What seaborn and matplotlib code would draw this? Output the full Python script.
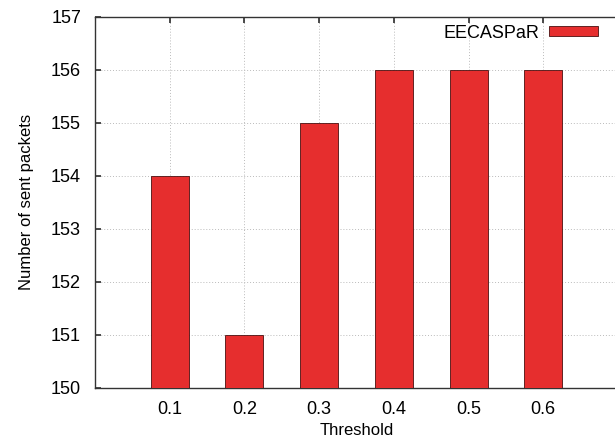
import matplotlib
matplotlib.use("Agg")
import matplotlib.pyplot as plt
import seaborn as sns
import pandas as pd

thresholds = ["0.1", "0.2", "0.3", "0.4", "0.5", "0.6"]
sent_packets = [154, 151, 155, 156, 156, 156]
series_name = "EECASPaR"
y_ticks = [150, 151, 152, 153, 154, 155, 156, 157]

sns.set_theme(style="white")
plt.rcParams['font.family'] = ['Liberation Sans', 'DejaVu Sans']
plt.rcParams['text.color'] = 'black'
plt.rcParams['axes.labelcolor'] = 'black'
plt.rcParams['xtick.color'] = 'black'
plt.rcParams['ytick.color'] = 'black'

df = pd.DataFrame({"Threshold": thresholds, "Packets": sent_packets, "Series": series_name})

fig = plt.figure(figsize=(6.15, 4.42), dpi=100)
ax = fig.add_axes([95/615, 54/442, (618-95)/615, (388-16.5)/442])

sns.barplot(data=df, x="Threshold", y="Packets", hue="Series", palette=["#E62E2E"],
            saturation=1, width=0.51, edgecolor="#4a1010", linewidth=0.6, ax=ax, zorder=3)

ax.set_ylim(150, 157)
ax.set_xlim(-1, 6)
ax.set_yticks(y_ticks)
ax.set_yticklabels([str(v) for v in y_ticks], fontsize=13)
ax.set_xticks(range(len(thresholds)))
ax.set_xticklabels(thresholds, fontsize=13)
ax.set_xlabel("Threshold", fontsize=12)
ax.set_ylabel("Number of sent packets", fontsize=12)
ax.yaxis.labelpad = 12
ax.xaxis.labelpad = 4

ax.grid(True, linestyle=(0, (1, 2)), color="#bbbbbb", linewidth=0.7, zorder=0)
ax.set_axisbelow(True)
for s in ax.spines.values():
    s.set_color("#333333")
    s.set_linewidth(1.0)
ax.tick_params(axis="x", direction="in", length=4, color="#333333",
               top=True, bottom=True, pad=9)
ax.tick_params(axis="y", direction="in", length=4, color="#333333",
               left=True, right=False, pad=10)

leg = ax.legend(loc="upper right", bbox_to_anchor=((606-95)/523, 1.0), frameon=False,
                markerfirst=False, fontsize=13, handlelength=2.7, handleheight=0.5,
                borderaxespad=0.0, borderpad=0.45, handletextpad=0.55)

fig.savefig("out.png", dpi=100)
